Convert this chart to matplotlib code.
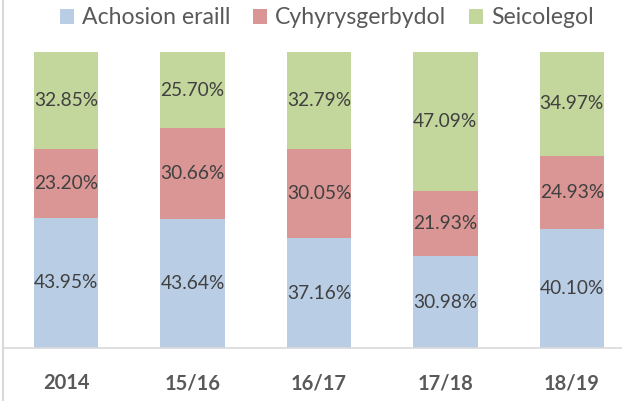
import matplotlib.pyplot as plt
import numpy as np

categories = ["2014", "15/16", "16/17", "17/18", "18/19"]
series_names = ["Achosion eraill", "Cyhyrysgerbydol", "Seicolegol"]
achosion = [43.95, 43.64, 37.16, 30.98, 40.10]
cyhyr = [23.20, 30.66, 30.05, 21.93, 24.93]
seicol = [32.85, 25.70, 32.79, 47.09, 34.97]

colors = ["#B9CDE5", "#D99694", "#C3D69B"]
text_col = "#595959"
plt.rcParams['font.family'] = ['Lato', 'DejaVu Sans']

fig = plt.figure(figsize=(6.22, 4.01), dpi=100)
W, H = 622, 401
# axes spans past the right edge, like the cropped original
ax = fig.add_axes([3 / W, (H - 348) / H, 632 / W, 296 / H])

x = np.arange(len(categories))
bottom = np.zeros(len(categories))
for vals, name, c in zip([achosion, cyhyr, seicol], series_names, colors):
    vals = np.array(vals)
    bars = ax.bar(x, vals, 0.51, bottom=bottom, color=c, label=name)
    for xi, b, v in zip(x, bottom, vals):
        ax.text(xi, b + v / 2, f"{v:.2f}%", ha='center', va='center',
                fontsize=13.8, color="#404040")
    bottom += vals

ax.set_xlim(-0.5, 4.5)
ax.set_ylim(0, 100)
ax.set_yticks([])
ax.set_xticks(x)
ax.set_xticklabels(categories, fontsize=14.5, fontweight='bold', color=text_col)
ax.tick_params(axis='x', length=0, pad=18)
for s in ['top', 'right', 'left']:
    ax.spines[s].set_visible(False)
ax.spines['bottom'].set_color("#D9D9D9")
ax.spines['bottom'].set_linewidth(1.2)

# chart border on the left
fig.add_artist(plt.Line2D([3 / W, 3 / W], [0, 1], color="#D9D9D9", lw=1.5,
                          transform=fig.transFigure))

leg = fig.legend(loc='center', bbox_to_anchor=(327 / W, (H - 18) / H), ncol=3,
                 frameon=False, fontsize=16.6, handlelength=0.6, handleheight=0.6,
                 handletextpad=0.35, columnspacing=1.0)
for t in leg.get_texts():
    t.set_color(text_col)

fig.savefig("out.png", dpi=100)
